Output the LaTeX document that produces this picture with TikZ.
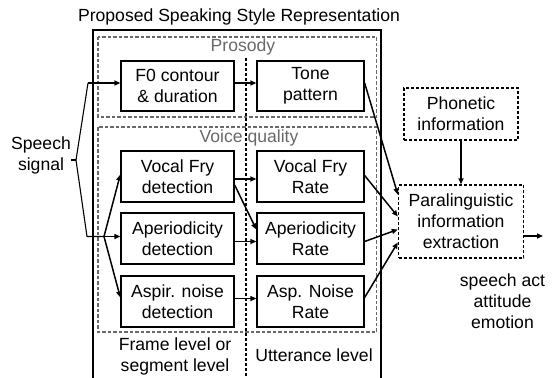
\documentclass[tikz,border=0pt]{standalone}
\usepackage{fontspec}
\setmainfont{Liberation Sans}
\usetikzlibrary{arrows.meta,calc}
\definecolor{groupgray}{RGB}{105,105,105}
\begin{document}
\begin{tikzpicture}[x=1pt,y=-1pt,
  every node/.style={font=\fontsize{17.6}{21}\selectfont, inner sep=0pt, align=center},
  blockbox/.style={draw, line width=1.3pt, minimum height=50pt},
  leftbox/.style={blockbox, minimum width=113pt},
  rightbox/.style={blockbox, minimum width=107pt},
  extbox/.style={draw, line width=1.4pt, dash pattern=on 3pt off 2pt},
  groupbox/.style={draw=groupgray, line width=1.4pt, dash pattern=on 3.5pt off 2pt},
  grouplabel/.style={text=groupgray},
  flow/.style={line width=1.5pt, -{Triangle[length=6pt,width=5pt]}},
  wire/.style={line width=1.1pt}
]
\useasboundingbox (0,0) rectangle (556,377);
\begin{scope}
\clip (0,0) rectangle (556,377);

% title and the outer frame (open at the bottom)
\node (title) at (239,17) {Proposed Speaking Style Representation};
\draw[line width=1.8pt] (93,380) -- (93,30) -- (381,30) -- (381,380);

% prosody and voice quality groups
\draw[groupbox] (98,37) rectangle (376.5,117);
\node[grouplabel] (prosody) at (243,47) {Prosody};
\draw[groupbox] (98,127) rectangle (376.5,332);
\node[grouplabel] (vq) at (249,138) {Voice quality};

% boundary between frame level and utterance level
\draw[line width=1.1pt, dash pattern=on 3pt off 2pt] (246,58) -- (246,380);

% processing blocks
\node[leftbox]  (f0)   at (177.5,86)    {F0 contour\\\& duration};
\node[rightbox] (tone) at (310.5,86)    {Tone\\pattern};
\node[leftbox, minimum height=51pt]  (vfd)  at (177.5,176.5) {Vocal Fry\\detection};
\node[rightbox, minimum height=51pt] (vfr)  at (310.5,176.5) {Vocal Fry\\Rate};
\node[leftbox, minimum height=51pt]  (apd)  at (177.5,238.5) {Aperiodicity\\detection};
\node[rightbox, minimum height=51pt] (apr)  at (310.5,238.5) {Aperiodicity\\Rate};
\node[leftbox, minimum height=51pt]  (asd)  at (177.5,301.5) {Aspir. noise\\detection};
\node[rightbox, minimum height=51pt] (asr)  at (310.5,301.5) {Asp. Noise\\Rate};

% level labels
\node (framelvl) at (175,356) {Frame level or\\segment level};
\node (uttlvl)   at (314,355) {Utterance level};

% external blocks
\node[extbox, minimum width=114pt, minimum height=52pt] (phon) at (461,114) {Phonetic\\information};
\node[extbox, minimum width=125pt, minimum height=73pt] (para) at (461,221.5) {Paralinguistic\\information\\extraction};
\node (outputs) at (502.5,301) {speech act\\attitude\\emotion};

% input
\node (speech) at (41,155) {Speech\\signal};
\coordinate (br)   at (76,160);
\coordinate (brup) at (88,83);
\coordinate (brlo) at (87,236.5);
\coordinate (fork) at (104,236.5);
\draw[wire] (speech.east |- br) -- (br);
\draw[wire] (br) -- (brup);
\draw[wire] (br) -- (brlo) -- (fork);
\draw[flow] (brup) -- (f0.west |- brup);
\draw[flow] (fork) -- (apd.west |- fork);
\draw[flow] (fork) -- ($(vfd.west)+(0,-2)$);
\draw[flow] (fork) -- ($(asd.west)+(0,-4)$);

% frame level to utterance level
\draw[flow] ($(f0.east)+(0,-3)$) -- ($(tone.west)+(0,-3)$);
\draw[flow] ($(vfd.east)+(0,2.5)$) -- ($(vfr.west)+(0,2.5)$);
\draw[flow] ($(vfd.east)+(0,8.5)$) -- ($(apr.west)+(0,-9)$);
\draw[flow] ($(apd.east)+(0,3)$) -- ($(apr.west)+(0,3)$);
\draw[flow] ($(asd.east)+(0,-3)$) -- ($(asr.west)+(0,-3)$);

% into the paralinguistic block
\draw[flow] ($(tone.east)+(0,-3)$) -- ($(para.west)+(0,-27)$);
\draw[flow] ($(vfr.east)+(0,-1)$) -- ($(para.west)+(0,-5)$);
\draw[flow] ($(apr.east)+(0,3)$) -- ($(para.west)+(0,8)$);
\draw[flow] ($(asr.east)+(0,-4)$) -- ($(para.west)+(0,21)$);
\draw[flow] (phon.south) -- (para.north);
\coordinate (outend) at (543,236);
\draw[flow] (para.east |- outend) -- (outend);
\end{scope}
\end{tikzpicture}
\end{document}
